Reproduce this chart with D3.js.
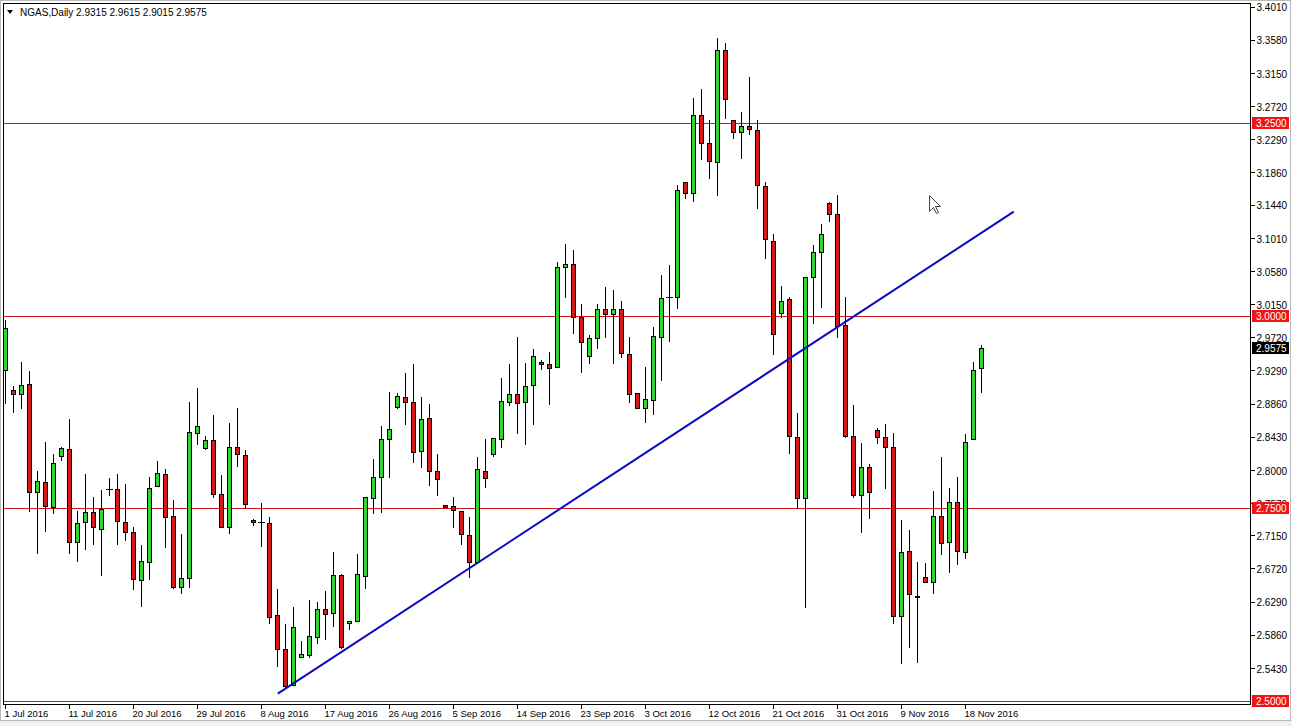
<!DOCTYPE html>
<html><head><meta charset="utf-8">
<script src="https://cdn.jsdelivr.net/npm/d3@7"></script>
<style>
html,body{margin:0;padding:0;background:#fff;overflow:hidden}
svg{display:block}
text{font-family:"Liberation Sans",Arial,sans-serif;font-size:10px}
</style>
</head><body>
<svg id="c" width="1292" height="726"></svg>
<script>
// ---------- data ----------
const dates = [
"2016-07-01","2016-07-03","2016-07-04","2016-07-05","2016-07-06","2016-07-07","2016-07-08","2016-07-10","2016-07-11","2016-07-12",
"2016-07-13","2016-07-14","2016-07-15","2016-07-17","2016-07-18","2016-07-19","2016-07-20","2016-07-21","2016-07-22","2016-07-24",
"2016-07-25","2016-07-26","2016-07-27","2016-07-28","2016-07-29","2016-07-31","2016-08-01","2016-08-02","2016-08-03","2016-08-04",
"2016-08-05","2016-08-07","2016-08-08","2016-08-09","2016-08-10","2016-08-11","2016-08-12","2016-08-14","2016-08-15","2016-08-16",
"2016-08-17","2016-08-18","2016-08-19","2016-08-21","2016-08-22","2016-08-23","2016-08-24","2016-08-25","2016-08-26","2016-08-28",
"2016-08-29","2016-08-30","2016-08-31","2016-09-01","2016-09-02","2016-09-04","2016-09-05","2016-09-06","2016-09-07","2016-09-08",
"2016-09-09","2016-09-11","2016-09-12","2016-09-13","2016-09-14","2016-09-15","2016-09-16","2016-09-18","2016-09-19","2016-09-20",
"2016-09-21","2016-09-22","2016-09-23","2016-09-25","2016-09-26","2016-09-27","2016-09-28","2016-09-29","2016-09-30","2016-10-02",
"2016-10-03","2016-10-04","2016-10-05","2016-10-06","2016-10-07","2016-10-09","2016-10-10","2016-10-11","2016-10-12","2016-10-13",
"2016-10-14","2016-10-16","2016-10-17","2016-10-18","2016-10-19","2016-10-20","2016-10-21","2016-10-23","2016-10-24","2016-10-25",
"2016-10-26","2016-10-27","2016-10-28","2016-10-30","2016-10-31","2016-11-01","2016-11-02","2016-11-03","2016-11-04","2016-11-06",
"2016-11-07","2016-11-08","2016-11-09","2016-11-10","2016-11-11","2016-11-13","2016-11-14","2016-11-15","2016-11-16","2016-11-17",
"2016-11-18","2016-11-20","2016-11-21"];

const openP = [
2.9299,2.9040,2.8988,2.9118,2.7716,2.7846,2.7522,2.8183,2.8274,2.7068,
2.7327,2.7457,2.7236,2.7750,2.7755,2.7327,2.7197,2.6574,2.6808,2.7794,
2.7950,2.7405,2.6484,2.6600,2.8482,2.8287,2.8391,2.7690,2.7262,2.8300,
2.8196,2.7353,2.7320,2.7314,2.6120,2.5679,2.5212,2.5576,2.5601,2.5835,
2.6198,2.6146,2.6639,2.6017,2.6043,2.6626,2.7638,2.7911,2.8404,2.8819,
2.8949,2.8884,2.8248,2.8676,2.7989,2.7548,2.7535,2.7470,2.7158,2.6808,
2.7989,2.8209,2.8404,2.8884,2.8988,2.8884,2.9105,2.9403,2.9377,2.9338,
3.0636,3.0675,2.9987,2.9481,2.9714,3.0091,3.0026,3.0091,2.9507,2.9001,
2.8806,2.8910,2.9727,3.0247,3.0247,3.1739,3.1596,3.2608,3.2245,3.1998,
3.3451,3.2543,3.2387,3.2465,3.2413,3.1687,3.0973,3.0039,3.0220,2.8430,
2.7638,3.0506,3.0830,3.1466,3.1323,2.9883,2.8443,2.7677,2.8041,2.8521,
2.8430,2.8300,2.6107,2.6951,2.6367,2.6613,2.6549,2.7405,2.7068,2.7587,
2.6938,2.8404,2.9315];
const highP = [
2.9948,2.9092,2.9403,2.9286,2.7989,2.8365,2.8209,2.8300,2.8663,2.7470,
2.7950,2.7651,2.7742,2.7898,2.7950,2.7820,2.7262,2.7029,2.7911,2.8119,
2.8015,2.7613,2.7171,2.8884,2.9066,2.8443,2.8715,2.7937,2.8612,2.8806,
2.8261,2.7366,2.7574,2.7392,2.6458,2.6004,2.6224,2.5783,2.6315,2.6289,
2.6432,2.6938,2.6652,2.6043,2.6912,2.7651,2.8144,2.8573,2.9014,2.9001,
2.9260,2.9377,2.8949,2.8858,2.8209,2.7548,2.7651,2.7470,2.7392,2.8171,
2.8404,2.8417,2.9195,2.9377,2.9727,2.9390,2.9572,2.9429,2.9533,3.0700,
3.0934,3.0856,3.0156,2.9753,3.0156,3.0376,3.0337,3.0195,2.9727,2.9001,
2.9338,2.9857,3.0532,3.0662,3.1700,3.1739,3.2828,3.2945,3.2543,3.3607,
3.3542,3.2543,3.2647,3.3101,3.2543,3.1739,3.1064,3.0389,3.0246,2.8741,
3.0506,3.0921,3.1194,3.1479,3.1570,3.0246,2.8845,2.8352,2.8080,2.8547,
2.8589,2.8482,2.7353,2.7223,2.6808,2.6795,2.7729,2.8170,2.7768,2.7911,
2.8469,2.9403,2.9615];
const lowP = [
2.8871,2.8754,2.8806,2.7470,2.6925,2.7210,2.7444,2.8131,2.6925,2.6821,
2.6977,2.7042,2.6639,2.7677,2.7042,2.7094,2.6458,2.6237,2.6587,2.7794,
2.7003,2.6471,2.6406,2.6484,2.8339,2.8274,2.7651,2.7262,2.7184,2.8054,
2.7509,2.7288,2.7016,2.6017,2.5459,2.5186,2.5212,2.5576,2.5576,2.5757,
2.5809,2.5978,2.5692,2.5939,2.6043,2.6471,2.7444,2.7457,2.7911,2.8806,
2.8599,2.8106,2.8041,2.7807,2.7677,2.7522,2.7262,2.7042,2.6613,2.6795,
2.7781,2.8183,2.8300,2.8845,2.8482,2.8339,2.8599,2.9312,2.8858,2.9338,
3.0246,2.9779,2.9273,2.9390,2.9585,2.9727,2.9390,2.9468,2.8884,2.8806,
2.8625,2.8728,2.9170,2.9676,3.0104,3.1531,3.1492,3.2037,3.1790,3.1570,
3.2569,3.2309,3.2050,3.2361,3.1401,3.0753,2.9507,2.9987,2.8222,2.7509,
2.6224,2.9909,3.0117,3.1232,2.9727,2.8430,2.7651,2.7197,2.7379,2.8352,
2.7768,2.6017,2.5497,2.5705,2.5510,2.6549,2.6406,2.6912,2.6678,2.6782,
2.6860,2.8404,2.9015];
const closeP = [
2.9844,2.8988,2.9105,2.7716,2.7859,2.7535,2.8093,2.8287,2.7068,2.7314,
2.7457,2.7262,2.7496,2.7750,2.7340,2.7197,2.6587,2.6821,2.7768,2.7963,
2.7392,2.6484,2.6600,2.8495,2.8573,2.8391,2.7690,2.7262,2.8300,2.8209,
2.7561,2.7327,2.7320,2.6094,2.5679,2.5199,2.5965,2.5614,2.5848,2.6198,
2.6133,2.6639,2.5705,2.6043,2.6652,2.7651,2.7911,2.8404,2.8534,2.8962,
2.8884,2.8235,2.8663,2.7989,2.7885,2.7522,2.7483,2.7171,2.6808,2.8015,
2.7898,2.8417,2.8897,2.8988,2.8871,2.9092,2.9481,2.9377,2.9325,3.0636,
3.0675,2.9987,2.9663,2.9714,3.0091,3.0026,3.0091,2.9520,2.8988,2.8806,
2.8923,2.9740,3.0234,3.0247,3.1635,3.1596,3.2608,3.2245,3.2011,3.3451,
3.2815,3.2387,3.2465,3.2426,3.1700,3.0999,2.9766,3.0195,2.8443,2.7638,
3.0506,3.0830,3.1064,3.1323,2.9870,2.8443,2.7677,2.8041,2.7716,2.8430,
2.8300,2.6107,2.6938,2.6393,2.6354,2.6549,2.7405,2.7055,2.7587,2.6951,
2.8365,2.9299,2.9575];

const priceTicks = [3.401,3.358,3.315,3.272,3.229,3.186,3.144,3.101,3.058,3.015,2.972,
                    2.929,2.886,2.843,2.800,2.757,2.715,2.672,2.629,2.586,2.543];
const dateTickIdx = [0,8,16,24,32,40,48,56,64,72,80,88,96,104,112,120];
const dateTickLabels = ["1 Jul 2016","11 Jul 2016","20 Jul 2016","29 Jul 2016","8 Aug 2016","17 Aug 2016",
  "26 Aug 2016","5 Sep 2016","14 Sep 2016","23 Sep 2016","3 Oct 2016","12 Oct 2016","21 Oct 2016",
  "31 Oct 2016","9 Nov 2016","18 Nov 2016"];
const levels = [3.25, 3.00, 2.75, 2.50];
const levelLabels = ["3.2500","3.0000","2.7500","2.5000"];
const lastPrice = 2.9575;
const lastLabel = "2.9575";
const trendIdx = [34.1, 126.1];
const trendPrice = [2.5095, 3.135];
const titleSymbol = "NGAS,Daily";
const titleValues = "2.9315 2.9615 2.9015 2.9575";

// ---------- layout ----------
const W = 1292, H = 726;
const plotL = 3, plotR = 1250, plotT = 3, plotB = 704;
const svg = d3.select("#c");

const x = d3.scaleLinear().domain([0, dates.length - 1]).range([5, 5 + 8 * (dates.length - 1)]);
const y = d3.scaleLinear().domain([2.5, 3.25]).range([701, 123]);

const GREEN = "#2fd82f", RED = "#dc1818", LEVEL = "#d01a1a";

// background
svg.append("rect").attr("width", W).attr("height", H).attr("fill", "#fff");
svg.append("rect").attr("x", 0).attr("y", 721).attr("width", W).attr("height", H - 721).attr("fill", "#f0f0f0");
svg.append("line").attr("x1", 0).attr("x2", W).attr("y1", 720.5).attr("y2", 720.5).attr("stroke", "#e0e0e0");
svg.append("rect").attr("x", 0.5).attr("y", 0.5).attr("width", W - 2).attr("height", 720).attr("fill", "none").attr("stroke", "#b8b8b8");

svg.append("defs").append("clipPath").attr("id", "plotclip")
  .append("rect").attr("x", plotL).attr("y", plotT).attr("width", plotR - plotL).attr("height", plotB - plotT);

const plot = svg.append("g").attr("clip-path", "url(#plotclip)");

// horizontal levels
plot.selectAll("line.lvl").data(levels).join("line").attr("class", "lvl")
  .attr("x1", plotL).attr("x2", plotR)
  .attr("y1", d => Math.round(y(d)) + 0.5).attr("y2", d => Math.round(y(d)) + 0.5)
  .attr("stroke", LEVEL).attr("stroke-width", 1);

// candles
const data = dates.map((d, i) => ({ i, o: openP[i], h: highP[i], l: lowP[i], c: closeP[i] }));
const cg = plot.append("g").attr("shape-rendering", "crispEdges");
const cand = cg.selectAll("g.c").data(data).join("g").attr("class", "c");
cand.append("line")
  .attr("x1", d => Math.round(x(d.i)) + 0.5).attr("x2", d => Math.round(x(d.i)) + 0.5)
  .attr("y1", d => Math.round(y(d.h))).attr("y2", d => Math.round(y(d.l)) + 1)
  .attr("stroke", "#000").attr("stroke-width", 1);
cand.each(function (d) {
  const g = d3.select(this);
  const cx = Math.round(x(d.i));
  const yt = Math.round(y(Math.max(d.o, d.c)));
  const yb = Math.round(y(Math.min(d.o, d.c)));
  if (yb - yt < 1) {
    g.append("line").attr("x1", cx - 3).attr("x2", cx + 4)
      .attr("y1", yt + 0.5).attr("y2", yt + 0.5).attr("stroke", "#000");
  } else {
    g.append("rect").attr("x", cx - 1.5).attr("y", yt + 0.5)
      .attr("width", 4).attr("height", yb - yt)
      .attr("fill", d.c >= d.o ? GREEN : RED).attr("stroke", "#000").attr("stroke-width", 1);
  }
});

// trend line
plot.append("line")
  .attr("x1", x(trendIdx[0])).attr("y1", y(trendPrice[0]))
  .attr("x2", x(trendIdx[1])).attr("y2", y(trendPrice[1]))
  .attr("stroke", "#0a0ac0").attr("stroke-width", 2);

// frame
svg.append("path")
  .attr("d", `M${plotL + 0.5},${plotB + 0.5}V${plotT + 0.5}H${plotR + 0.5}V${plotB + 0.5}H${plotL + 0.5}`)
  .attr("fill", "none").attr("stroke", "#000").attr("shape-rendering", "crispEdges");

// right price axis
const ay = svg.append("g").attr("transform", `translate(${plotR + 0.5},0)`)
  .call(d3.axisRight(y).tickValues(priceTicks).tickFormat(d3.format(".4f")).tickSize(4).tickPadding(2));
ay.select(".domain").remove();
ay.selectAll("line").attr("stroke", "#000").attr("shape-rendering", "crispEdges");
ay.selectAll("text").attr("fill", "#000").attr("dy", "0.42em").style("font-size", "10px").attr("font-family", null);

// level labels on axis
const lb = svg.append("g");
levels.forEach((v, k) => {
  const yy = Math.round(y(v));
  lb.append("rect").attr("x", plotR + 2).attr("y", yy - 6).attr("width", 37).attr("height", 12).attr("fill", "#f01414");
  lb.append("text").attr("x", plotR + 6).attr("y", yy + 4).attr("fill", "#fff").text(levelLabels[k]);
});
{
  const yy = Math.round(y(lastPrice));
  lb.append("rect").attr("x", plotR + 2).attr("y", yy - 6).attr("width", 37).attr("height", 12).attr("fill", "#000");
  lb.append("text").attr("x", plotR + 6).attr("y", yy + 4).attr("fill", "#fff").text(lastLabel);
}

// bottom date axis
const ax = svg.append("g").attr("transform", `translate(0,${plotB + 0.5})`)
  .call(d3.axisBottom(x).tickValues(dateTickIdx).tickFormat((d, k) => dateTickLabels[k]).tickSize(4).tickPadding(2));
ax.select(".domain").remove();
ax.selectAll("line").attr("stroke", "#000").attr("shape-rendering", "crispEdges")
  .attr("transform", "translate(-0.5,0)");
ax.selectAll("text").attr("text-anchor", "start").attr("dx", -1).attr("fill", "#000").style("font-size", "9.5px");

// title
svg.append("path").attr("d", "M7,10 L13,10 L10,14 Z").attr("fill", "#000");
svg.append("text").attr("x", 20).attr("y", 16).attr("fill", "#000").text(titleSymbol + "  " + titleValues);

// mouse cursor
svg.append("path")
  .attr("transform", "translate(929.5,195.5)")
  .attr("d", "M0,0 V16 L4,12 L7,18 L9,17 L6,11 L11,11 Z")
  .attr("fill", "#fff").attr("stroke", "#444").attr("stroke-width", 1);
</script>
</body></html>
